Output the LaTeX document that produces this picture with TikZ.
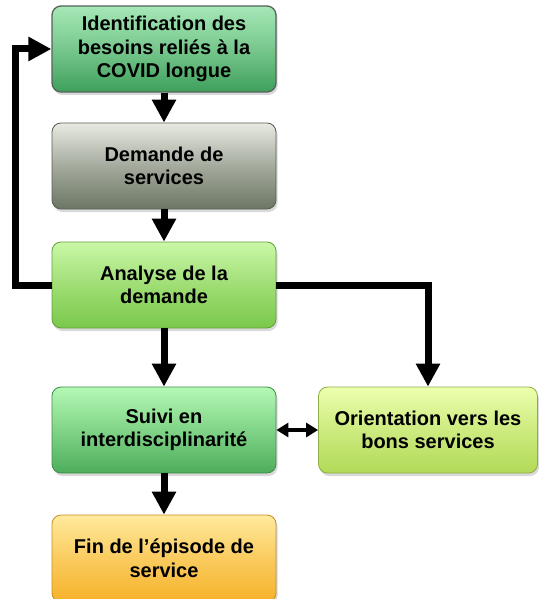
\documentclass[tikz,border=0pt]{standalone}
\usepackage{fontspec}
\setmainfont{Liberation Sans}
\usetikzlibrary{positioning, calc, arrows.meta, shadows}

\definecolor{idtop}{HTML}{A6E8B6}
\definecolor{idbot}{HTML}{3E9F5B}
\definecolor{idline}{HTML}{55625A}
\definecolor{demtop}{HTML}{E8EAE2}
\definecolor{dembot}{HTML}{6C7664}
\definecolor{anatop}{HTML}{CBF8A8}
\definecolor{anabot}{HTML}{7AC84A}
\definecolor{suitop}{HTML}{B4F9B4}
\definecolor{suibot}{HTML}{4DAE5C}
\definecolor{oritop}{HTML}{EDFFAE}
\definecolor{oribot}{HTML}{B2DA58}
\definecolor{fintop}{HTML}{FFEA9E}
\definecolor{finbot}{HTML}{F6B22A}

\tikzset{
  box/.style={draw, rounded corners=9pt, minimum width=224pt, minimum height=86pt,
    align=center, line width=0.8pt, font=\fontsize{20}{23.5}\selectfont\bfseries,
    drop shadow={shadow xshift=1.5pt, shadow yshift=-3pt, opacity=0.3}},
  fat/.style={line width=7pt, -{Triangle[length=23pt,width=23pt]}},
  thin/.style={line width=4pt, {Triangle[length=12pt,width=14pt]}-{Triangle[length=12pt,width=14pt]}}
}

\begin{document}
\begin{tikzpicture}[x=1pt, y=-1pt]
			\useasboundingbox (0,0) rectangle (538,599);
			\node (id) [box, draw=idline, line width=1.3pt, top color=idtop, bottom color=idbot, middle color=idtop!55!idbot] at (164,49) {Identification des\\besoins reliés à la\\COVID longue};
			\node (dem) [box, draw=dembot!80!black, top color=demtop, bottom color=dembot, middle color=demtop!45!dembot] at (164,166) {Demande de\\services};
			\node (ana) [box, draw=anabot!80!black, top color=anatop, bottom color=anabot, middle color=anatop!45!anabot] at (164,285) {Analyse de la\\demande};
			\node (suivi) [box, draw=suibot!80!black, top color=suitop, bottom color=suibot, middle color=suitop!50!suibot] at (164,430) {Suivi en\\interdisciplinarité};
			\node (orient) [box, minimum width=219pt, draw=oribot!80!black, top color=oritop, bottom color=oribot, middle color=oritop!45!oribot] at (428,430) {Orientation vers les\\bons services};
			\node (fin) [box, minimum height=87pt, draw=finbot!80!black, top color=fintop, bottom color=finbot, middle color=fintop!45!finbot] at (164,558.5) {Fin de l’épisode de\\service};
			\coordinate (loop) at (15.5,285);

			\draw [fat] (id) -- (dem);
			\draw [fat] (dem) -- (ana);
			\draw [fat] (ana) -- (suivi);
			\draw [fat] (suivi) -- (fin);
			\draw [fat] (ana.east) -| (orient.north);
			\draw [fat] (ana.west) -- (loop) |- (id.west);
			\draw [thin] (suivi.east) -- (orient.west);
\end{tikzpicture}
\end{document}
